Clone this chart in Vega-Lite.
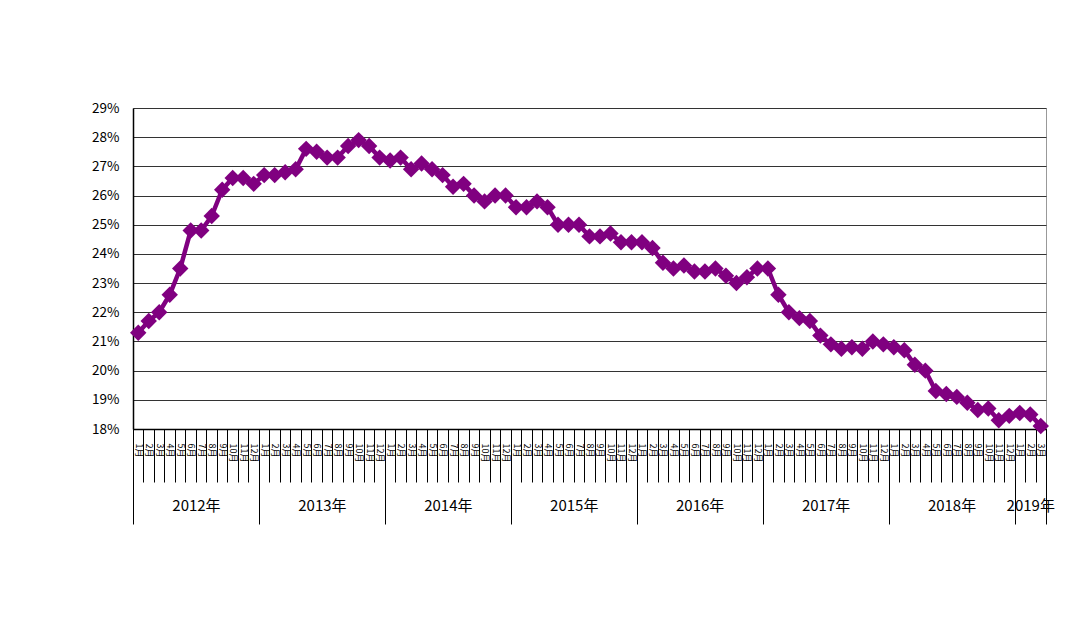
{
  "$schema": "https://vega.github.io/schema/vega-lite/v6.json",
  "autosize": {"type": "none"},
  "width": 913,
  "height": 321,
  "padding": {"left": 133, "top": 108, "right": 41, "bottom": 188},
  "background": "white",
  "config": {
    "view": {"stroke": "#999999", "strokeWidth": 1},
    "font": "Noto Sans CJK JP",
    "axis": {"labelColor": "#000000", "labelFont": "Noto Sans CJK JP", "tickColor": "#000000", "domainColor": "#000000"}
  },
  "data": {
    "values": [
      {"i": 0, "v": 21.3}, {"i": 1, "v": 21.7}, {"i": 2, "v": 22.0}, {"i": 3, "v": 22.6},
      {"i": 4, "v": 23.5}, {"i": 5, "v": 24.8}, {"i": 6, "v": 24.8}, {"i": 7, "v": 25.3},
      {"i": 8, "v": 26.2}, {"i": 9, "v": 26.6}, {"i": 10, "v": 26.6}, {"i": 11, "v": 26.4},
      {"i": 12, "v": 26.7}, {"i": 13, "v": 26.7}, {"i": 14, "v": 26.8}, {"i": 15, "v": 26.9},
      {"i": 16, "v": 27.6}, {"i": 17, "v": 27.5}, {"i": 18, "v": 27.3}, {"i": 19, "v": 27.3},
      {"i": 20, "v": 27.7}, {"i": 21, "v": 27.9}, {"i": 22, "v": 27.7}, {"i": 23, "v": 27.3},
      {"i": 24, "v": 27.2}, {"i": 25, "v": 27.3}, {"i": 26, "v": 26.9}, {"i": 27, "v": 27.1},
      {"i": 28, "v": 26.9}, {"i": 29, "v": 26.7}, {"i": 30, "v": 26.3}, {"i": 31, "v": 26.4},
      {"i": 32, "v": 26.0}, {"i": 33, "v": 25.8}, {"i": 34, "v": 26.0}, {"i": 35, "v": 26.0},
      {"i": 36, "v": 25.6}, {"i": 37, "v": 25.6}, {"i": 38, "v": 25.8}, {"i": 39, "v": 25.6},
      {"i": 40, "v": 25.0}, {"i": 41, "v": 25.0}, {"i": 42, "v": 25.0}, {"i": 43, "v": 24.6},
      {"i": 44, "v": 24.6}, {"i": 45, "v": 24.7}, {"i": 46, "v": 24.4}, {"i": 47, "v": 24.4},
      {"i": 48, "v": 24.4}, {"i": 49, "v": 24.2}, {"i": 50, "v": 23.7}, {"i": 51, "v": 23.5},
      {"i": 52, "v": 23.6}, {"i": 53, "v": 23.4}, {"i": 54, "v": 23.4}, {"i": 55, "v": 23.5},
      {"i": 56, "v": 23.25}, {"i": 57, "v": 23.0}, {"i": 58, "v": 23.2}, {"i": 59, "v": 23.5},
      {"i": 60, "v": 23.5}, {"i": 61, "v": 22.6}, {"i": 62, "v": 22.0}, {"i": 63, "v": 21.8},
      {"i": 64, "v": 21.7}, {"i": 65, "v": 21.2}, {"i": 66, "v": 20.9}, {"i": 67, "v": 20.75},
      {"i": 68, "v": 20.8}, {"i": 69, "v": 20.75}, {"i": 70, "v": 21.0}, {"i": 71, "v": 20.9},
      {"i": 72, "v": 20.8}, {"i": 73, "v": 20.7}, {"i": 74, "v": 20.2}, {"i": 75, "v": 20.0},
      {"i": 76, "v": 19.3}, {"i": 77, "v": 19.2}, {"i": 78, "v": 19.1}, {"i": 79, "v": 18.9},
      {"i": 80, "v": 18.65}, {"i": 81, "v": 18.7}, {"i": 82, "v": 18.3}, {"i": 83, "v": 18.45},
      {"i": 84, "v": 18.55}, {"i": 85, "v": 18.5}, {"i": 86, "v": 18.1}
    ]
  },
  "resolve": {"axis": {"x": "independent"}},
  "layer": [
    {
      "mark": {"type": "line", "color": "#800080", "strokeWidth": 4.5, "clip": false,
               "point": {"shape": "diamond", "size": 270, "filled": true, "color": "#800080", "opacity": 1}},
      "encoding": {
        "x": {
          "field": "i", "type": "quantitative",
          "scale": {"domain": [-0.5, 86.5], "nice": false, "zero": false},
          "axis": {
            "orient": "bottom", "title": null, "grid": false, "domain": true, "domainWidth": 1.5,
            "ticks": false, "labelPadding": 14,
            "values": [0,1,2,3,4,5,6,7,8,9,10,11,12,13,14,15,16,17,18,19,20,21,22,23,24,25,26,27,28,29,30,31,32,33,34,35,36,37,38,39,40,41,42,43,44,45,46,47,48,49,50,51,52,53,54,55,56,57,58,59,60,61,62,63,64,65,66,67,68,69,70,71,72,73,74,75,76,77,78,79,80,81,82,83,84,85,86],
            "labelExpr": "toString((datum.value % 12) + 1) + '月'",
            "labelAngle": 90, "labelAlign": "left", "labelBaseline": "middle",
            "labelFontSize": 9, "labelOverlap": false, "labelFlush": false, "labelBound": false
          }
        },
        "y": {
          "field": "v", "type": "quantitative",
          "scale": {"domain": [18, 29], "nice": false, "zero": false},
          "axis": {
            "title": null, "values": [18,19,20,21,22,23,24,25,26,27,28,29],
            "labelExpr": "datum.value + '%'", "labelFontSize": 13.5, "labelPadding": 14,
            "ticks": false, "domain": true, "domainColor": "#000000", "domainWidth": 1.5,
            "grid": true, "gridColor": "#333333", "gridWidth": 1.2, "gridOpacity": 1
          }
        }
      }
    },
    {
      "mark": {"type": "point", "opacity": 0},
      "encoding": {
        "x": {
          "field": "i", "type": "quantitative",
          "axis": {
            "orient": "bottom", "title": null, "grid": false, "domain": false, "labels": false,
            "ticks": true, "tickSize": 53, "tickWidth": 1, "tickColor": "#000000",
            "values": [-0.5,0.5,1.5,2.5,3.5,4.5,5.5,6.5,7.5,8.5,9.5,10.5,11.5,12.5,13.5,14.5,15.5,16.5,17.5,18.5,19.5,20.5,21.5,22.5,23.5,24.5,25.5,26.5,27.5,28.5,29.5,30.5,31.5,32.5,33.5,34.5,35.5,36.5,37.5,38.5,39.5,40.5,41.5,42.5,43.5,44.5,45.5,46.5,47.5,48.5,49.5,50.5,51.5,52.5,53.5,54.5,55.5,56.5,57.5,58.5,59.5,60.5,61.5,62.5,63.5,64.5,65.5,66.5,67.5,68.5,69.5,70.5,71.5,72.5,73.5,74.5,75.5,76.5,77.5,78.5,79.5,80.5,81.5,82.5,83.5,84.5,85.5,86.5]
          }
        }
      }
    },
    {
      "mark": {"type": "point", "opacity": 0},
      "encoding": {
        "x": {
          "field": "i", "type": "quantitative",
          "axis": {
            "orient": "bottom", "title": null, "grid": false, "domain": false, "labels": false,
            "ticks": true, "tickSize": 95, "tickWidth": 1, "tickColor": "#000000",
            "values": [-0.5, 11.5, 23.5, 35.5, 47.5, 59.5, 71.5, 83.5, 86.5]
          }
        }
      }
    },
    {
      "mark": {"type": "point", "opacity": 0},
      "encoding": {
        "x": {
          "field": "i", "type": "quantitative",
          "axis": {
            "orient": "bottom", "title": null, "grid": false, "domain": false, "ticks": false,
            "values": [5.5, 17.5, 29.5, 41.5, 53.5, 65.5, 77.5, 85],
            "labelExpr": "toString(2012 + floor((datum.value + 0.5) / 12)) + '年'",
            "labelFontSize": 15, "labelPadding": 69, "labelBaseline": "top",
            "labelOverlap": false, "labelFlush": false, "labelBound": false
          }
        }
      }
    }
  ]
}
